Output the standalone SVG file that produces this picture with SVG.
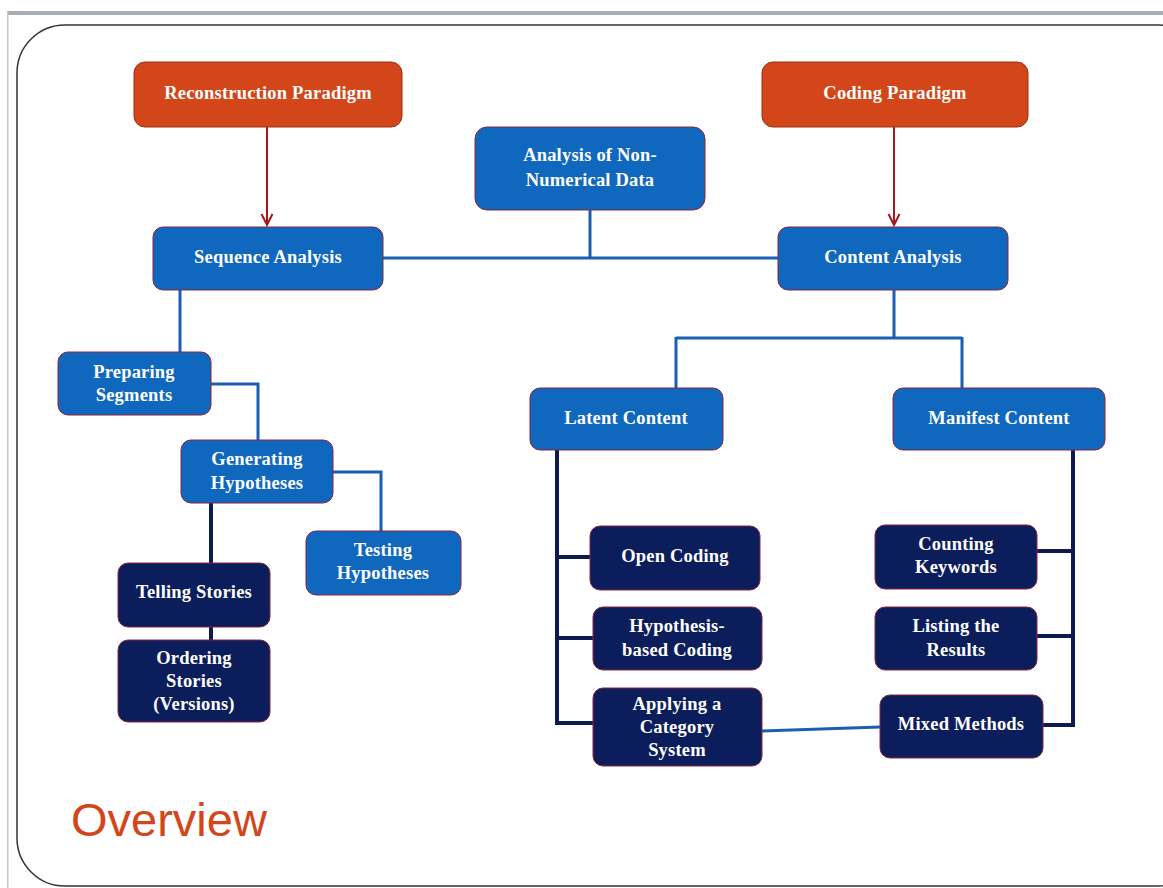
<svg xmlns="http://www.w3.org/2000/svg" width="1163" height="888" viewBox="0 0 1163 888">
<style>
.bg{fill:#ffffff}
.frame{fill:none;stroke:#333333;stroke-width:1.5}
.org rect{fill:#D2461A;stroke:#9A2E14;stroke-width:1}
.blu rect{fill:#0F68BD;stroke:#8A2440;stroke-width:1}
.nav rect{fill:#0C1D5B;stroke:#8A2440;stroke-width:1}
text.t{font-family:"Liberation Serif",serif;font-weight:bold;font-size:18.5px;fill:#ffffff;text-anchor:middle;letter-spacing:0.2px}
.cb{fill:none;stroke:#1B5FB5;stroke-width:3}
.cd{fill:none;stroke:#0C1A4F;stroke-width:4}
.ar{fill:none;stroke:#A3191C;stroke-width:2}
</style>
<defs>
<marker id="ah" viewBox="0 0 14 14" refX="12" refY="7" markerWidth="14" markerHeight="14" markerUnits="userSpaceOnUse" orient="auto">
<path d="M1,1.5 L12,7 L1,12.5" fill="none" stroke="#A3191C" stroke-width="2"/>
</marker>
</defs>
<rect class="bg" x="0" y="0" width="1163" height="888"/>
<rect x="7" y="11" width="1156" height="4" fill="#A9AEB5"/>
<rect x="7" y="11" width="1.5" height="877" fill="#C3C6CA"/>
<rect class="frame" x="17" y="25" width="1190" height="861" rx="48"/>

<g id="connectors">
<path class="ar" d="M267,127 V225" marker-end="url(#ah)"/>
<path class="ar" d="M894,127 V225" marker-end="url(#ah)"/>
<path class="cb" d="M383,258 H778"/>
<path class="cb" d="M590,210 V258"/>
<path class="cb" d="M180,290 V352"/>
<path class="cb" d="M211,384 H258 V440"/>
<path class="cb" d="M333,472 H381 V531"/>
<path class="cd" d="M211,503 V563"/>
<path class="cd" d="M211,627 V640"/>
<path class="cb" d="M894,290 V338 M676,338 H962 M676,337 V388 M962,337 V388"/>
<path class="cd" d="M557,450 V723 H593 M557,557 H590 M557,638 H593"/>
<path class="cd" d="M1073,450 V725 H1043 M1037,551 H1071 M1037,636 H1071"/>
<path class="cb" d="M762,731 L880,727"/>
</g>

<g id="reconstruction" class="org"><rect x="134" y="62" width="268" height="65" rx="11"/><text class="t" x="268" y="99">Reconstruction Paradigm</text></g>
<g id="coding" class="org"><rect x="762" y="62" width="266" height="65" rx="11"/><text class="t" x="895" y="99">Coding Paradigm</text></g>
<g id="nonnumerical" class="blu"><rect x="475" y="127" width="230" height="83" rx="12"/><text class="t" x="590" y="161">Analysis of Non-</text><text class="t" x="590" y="186">Numerical Data</text></g>
<g id="sequence" class="blu"><rect x="153" y="227" width="230" height="63" rx="10"/><text class="t" x="268" y="263">Sequence Analysis</text></g>
<g id="content" class="blu"><rect x="778" y="227" width="230" height="63" rx="10"/><text class="t" x="893" y="263">Content Analysis</text></g>
<g id="preparing" class="blu"><rect x="58" y="352" width="153" height="63" rx="10"/><text class="t" x="134" y="378">Preparing</text><text class="t" x="134" y="401">Segments</text></g>
<g id="generating" class="blu"><rect x="181" y="440" width="152" height="63" rx="10"/><text class="t" x="257" y="465">Generating</text><text class="t" x="257" y="489">Hypotheses</text></g>
<g id="testing" class="blu"><rect x="306" y="531" width="155" height="64" rx="10"/><text class="t" x="383" y="556">Testing</text><text class="t" x="383" y="579">Hypotheses</text></g>
<g id="telling" class="nav"><rect x="118" y="563" width="152" height="64" rx="10"/><text class="t" x="194" y="598">Telling Stories</text></g>
<g id="ordering" class="nav"><rect x="118" y="640" width="152" height="82" rx="10"/><text class="t" x="194" y="664">Ordering</text><text class="t" x="194" y="687">Stories</text><text class="t" x="194" y="710">(Versions)</text></g>
<g id="latent" class="blu"><rect x="530" y="388" width="193" height="62" rx="10"/><text class="t" x="626" y="424">Latent Content</text></g>
<g id="manifest" class="blu"><rect x="893" y="388" width="212" height="62" rx="10"/><text class="t" x="999" y="424">Manifest Content</text></g>
<g id="opencoding" class="nav"><rect x="590" y="526" width="170" height="64" rx="10"/><text class="t" x="675" y="562">Open Coding</text></g>
<g id="hypcoding" class="nav"><rect x="593" y="607" width="169" height="63" rx="10"/><text class="t" x="677" y="632">Hypothesis-</text><text class="t" x="677" y="656">based Coding</text></g>
<g id="applying" class="nav"><rect x="593" y="688" width="169" height="78" rx="10"/><text class="t" x="677" y="710">Applying a</text><text class="t" x="677" y="733">Category</text><text class="t" x="677" y="756">System</text></g>
<g id="counting" class="nav"><rect x="875" y="525" width="162" height="64" rx="10"/><text class="t" x="956" y="550">Counting</text><text class="t" x="956" y="573">Keywords</text></g>
<g id="listing" class="nav"><rect x="875" y="607" width="162" height="63" rx="10"/><text class="t" x="956" y="632">Listing the</text><text class="t" x="956" y="656">Results</text></g>
<g id="mixed" class="nav"><rect x="880" y="695" width="163" height="63" rx="10"/><text class="t" x="961" y="730">Mixed Methods</text></g>

<text x="71" y="836" font-family="Liberation Sans, Arial, sans-serif" font-size="47" fill="#D2461A">Overview</text>
</svg>
